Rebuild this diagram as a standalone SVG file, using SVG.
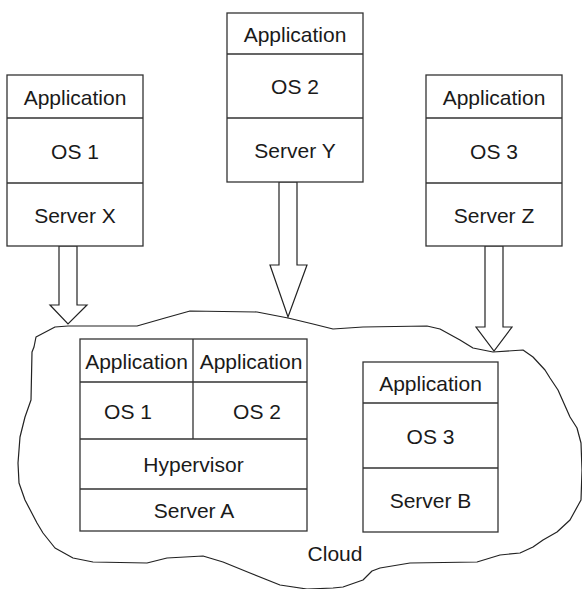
<svg xmlns="http://www.w3.org/2000/svg" width="582" height="589" viewBox="0 0 582 589">
<style>
.bx{fill:#fff;stroke:#333;stroke-width:1.3}
.ln{fill:none;stroke:#333;stroke-width:1.3}
.ar{fill:#fff;stroke:#222;stroke-width:1.2;stroke-linejoin:miter}
.cl{fill:none;stroke:#222;stroke-width:1.2;stroke-linejoin:round}
text{font-family:"Liberation Sans",Arial,Helvetica,sans-serif;font-size:21px;fill:#1a1a1a;text-anchor:middle;dominant-baseline:central}
</style>
<rect width="582" height="589" fill="#fff"/>
<g id="cloud">
<path class="cl" d="M31,400 L32,352 L34,347 L36,337 L55,327 L68,326 L137,326 L165,318 L190,311 L257,312 L288,318 L313,324 L333,329 L363,327 L427,326 L440,329 L460,340 L473,348 L493,352 L523,350 L533,357 L545,370 L550,378 L558,390 L570,417 L577,428 L581,443 L582,470 L581,500 L570,520 L557,532 L543,540 L533,547 L520,553 L500,555 L477,562 L410,563 L380,568 L372,571 L363,580 L343,587 L333,588 L307,589 L280,585 L250,573 L223,562 L203,556 L167,558 L147,563 L93,562 L73,558 L55,548 L43,533 L37,523 L25,500 L19,483 L18,463 L20,437 L25,417 Z"/>
<text x="335" y="553">Cloud</text>
</g>
<g id="connectors">
<polygon class="ar" points="59,246 77,246 77,305 87,305 68,324 50,305 59,305"/>
<polygon class="ar" points="279,182 297,182 297,265 307,265 288,317 270,265 279,265"/>
<polygon class="ar" points="485,246 503,246 503,327 512,327 494,351 476,327 485,327"/>
</g>
<g id="stackX">
<rect class="bx" x="7" y="75" width="136" height="171"/>
<path class="ln" d="M7,118H143M7,183H143"/>
<text x="75" y="97">Application</text>
<text x="75" y="151">OS 1</text>
<text x="75" y="215">Server X</text>
</g>
<g id="stackY">
<rect class="bx" x="227" y="13" width="136" height="169"/>
<path class="ln" d="M227,54H363M227,118H363"/>
<text x="295" y="34">Application</text>
<text x="295" y="86">OS 2</text>
<text x="295" y="150">Server Y</text>
</g>
<g id="stackZ">
<rect class="bx" x="426" y="75" width="136" height="171"/>
<path class="ln" d="M426,118H562M426,183H562"/>
<text x="494" y="97">Application</text>
<text x="494" y="151">OS 3</text>
<text x="494" y="215">Server Z</text>
</g>
<g id="serverA">
<rect class="bx" x="80" y="339" width="227" height="192"/>
<path class="ln" d="M80,382H307M80,439H307M80,489H307M193,339V439"/>
<text x="136.5" y="361">Application</text>
<text x="251" y="361">Application</text>
<text x="128" y="411">OS 1</text>
<text x="257" y="411">OS 2</text>
<text x="193.5" y="464">Hypervisor</text>
<text x="194" y="510">Server A</text>
</g>
<g id="serverB">
<rect class="bx" x="363" y="362" width="135" height="170"/>
<path class="ln" d="M363,403H498M363,468H498"/>
<text x="430.5" y="383">Application</text>
<text x="430.5" y="436">OS 3</text>
<text x="430.5" y="500">Server B</text>
</g>
</svg>
